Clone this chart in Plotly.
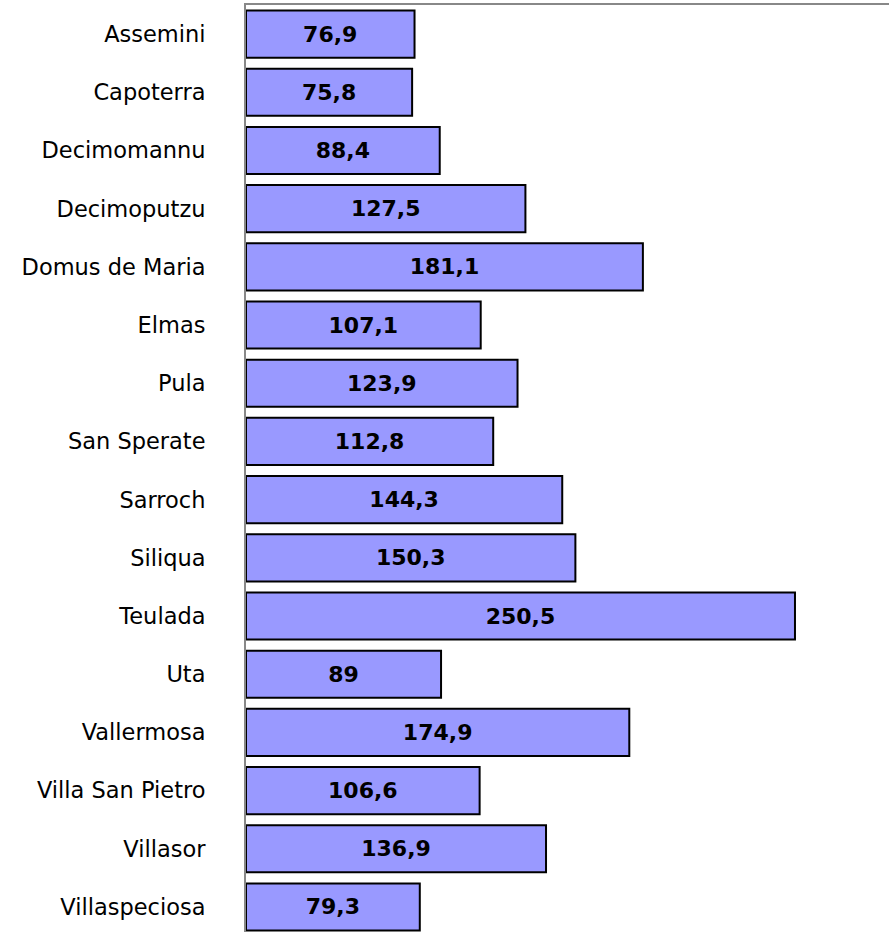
import plotly.graph_objects as go

categories = ["Assemini", "Capoterra", "Decimomannu", "Decimoputzu", "Domus de Maria",
              "Elmas", "Pula", "San Sperate", "Sarroch", "Siliqua", "Teulada", "Uta",
              "Vallermosa", "Villa San Pietro", "Villasor", "Villaspeciosa"]
values = [76.9, 75.8, 88.4, 127.5, 181.1, 107.1, 123.9, 112.8, 144.3, 150.3, 250.5, 89,
          174.9, 106.6, 136.9, 79.3]
labels = [f"{v:g}".replace(".", ",") for v in values]

fig = go.Figure(go.Bar(
    y=categories, x=values, orientation="h",
    marker=dict(color="#9999FF", line=dict(color="black", width=2)),
    text=labels, textposition="inside", insidetextanchor="middle", textangle=0,
    constraintext="none",
    textfont=dict(family="DejaVu Sans", size=22, color="black", weight="bold"),
    hoverinfo="skip",
))

fig.update_layout(
    width=889, height=932,
    margin=dict(l=246, r=0, t=5, b=0),
    paper_bgcolor="white", plot_bgcolor="white",
    bargap=0.19, showlegend=False,
    xaxis=dict(range=[0, 293.4], side="top", showline=True, linecolor="#888888", linewidth=2,
               showgrid=False, zeroline=False, showticklabels=False, ticks=""),
    yaxis=dict(range=[15.43, -0.5], showline=True, linecolor="#888888", linewidth=2,
               showgrid=False, zeroline=False, ticks="", ticklabelstandoff=34,
               tickfont=dict(family="DejaVu Sans", size=22.5, color="black")),
)

fig.write_html("out.html", config={"displayModeBar": False},
               post_script="document.body.style.margin='0';document.body.style.overflow='hidden';")
